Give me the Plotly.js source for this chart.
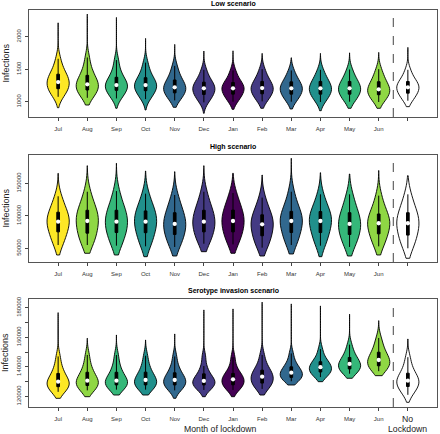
<!DOCTYPE html>
<html>
<head>
<meta charset="utf-8">
<script src="https://cdn.plot.ly/plotly-3.0.1.min.js"></script>
<style>html,body{margin:0;padding:0;background:#fff;}#chart{width:440px;height:434px;}</style>
</head>
<body>
<div id="chart"></div>
<script>
// ---- Data ----
const months = ['Jul','Aug','Sep','Oct','Nov','Dec','Jan','Feb','Mar','Apr','May','Jun','No Lockdown'];
const fillColors = ['#FDE725','#8FD744','#35B779','#21908C','#31688E','#443A83','#440154','#443A83','#31688E','#21908C','#35B779','#8FD744','#FFFFFF'];

// Low scenario: quantile values, plus extremes (violin tips)
const lowSamples = [
  [1075,1130,1170,1210,1245,1275,1302,1335,1370,1410,1460,1530,1660],
  [1060,1110,1150,1190,1225,1245,1267,1300,1340,1390,1450,1530,1680],
  [1050,1100,1145,1185,1215,1235,1256,1285,1320,1360,1420,1500,1640],
  [1040,1095,1140,1180,1210,1235,1256,1285,1315,1355,1410,1480,1600],
  [1020,1070,1110,1145,1175,1200,1221,1250,1280,1320,1375,1440,1550],
  [990,1045,1085,1120,1155,1180,1205,1230,1255,1290,1330,1390,1490],
  [1000,1050,1090,1125,1160,1185,1205,1230,1255,1285,1325,1385,1480],
  [1005,1055,1095,1130,1165,1190,1210,1235,1265,1300,1345,1405,1500],
  [1000,1050,1090,1125,1160,1185,1205,1230,1260,1295,1335,1390,1480],
  [995,1050,1090,1125,1160,1185,1205,1235,1265,1300,1345,1400,1490],
  [1000,1050,1090,1125,1160,1185,1205,1235,1265,1300,1345,1400,1495],
  [995,1045,1085,1115,1150,1170,1190,1220,1255,1295,1345,1405,1500],
  [1015,1065,1105,1140,1175,1200,1221,1245,1270,1300,1340,1395,1490]
];
const lowMin = [908,949,899,873,914,822,883,899,888,862,899,899,924];
const lowMax = [2212,2345,2294,1972,1880,1778,1782,1742,1675,1742,1751,1757,1834];

// High scenario
const highSamples = [
  [55000,63000,70000,77000,83000,87000,91000,95000,99000,104000,110000,118000,130000],
  [55000,62000,68000,75000,82000,88000,92000,97000,102000,107000,113000,122000,137000],
  [54000,62000,69000,76000,82000,87000,91000,96000,101000,107000,113000,122000,138000],
  [53000,61000,68000,76000,82000,87000,91000,96000,101000,106000,112000,120000,134000],
  [52000,60000,66000,73000,79000,84000,87400,92000,97000,103000,110000,118000,132000],
  [57000,64000,70000,77000,83000,87000,91000,96000,101000,107000,113000,122000,137000],
  [56000,64000,70000,77000,83000,88000,92000,97000,102000,107000,114000,122000,135000],
  [51000,58000,64000,71000,77000,82000,86900,91000,95000,100000,106000,114000,128000],
  [55000,62000,69000,76000,83000,88000,92000,96000,100000,105000,112000,121000,137000],
  [54000,62000,69000,76000,83000,88000,92000,96000,100000,105000,111000,119000,133000],
  [52000,60000,66000,73000,79000,84000,87400,92000,97000,103000,110000,119000,133000],
  [53000,61000,67000,74000,80000,85000,88500,92000,96000,101000,108000,116000,131000],
  [50000,58000,65000,72000,79000,84000,88500,93000,98000,103000,110000,119000,133000]
];
const highMin = [39700,42300,39700,37080,38150,44770,42300,38150,41230,37080,38150,39700,34620];
const highMax = [165380,177080,180770,168920,167850,177080,165380,162770,188460,166310,164310,169690,161690];

// Serotype invasion scenario
const serotypeSamples = [
  [123000,124500,125700,126800,128000,129000,129900,131200,132800,134800,137500,141000,147000],
  [124000,125300,126400,127600,128700,129700,130600,132000,133600,135600,138300,142000,148000],
  [124500,125800,126900,128000,129000,129800,130600,132000,133600,135600,138300,142000,148000],
  [124500,125800,126900,128000,129100,130100,131050,132300,133800,135700,138300,141800,147500],
  [124000,125600,126800,128000,129200,130100,131050,132200,133600,135300,137800,141000,147000],
  [124300,125700,126800,128000,129000,129700,130400,131500,132800,134600,137000,140500,147000],
  [124300,125700,126900,128100,129300,130400,131500,132500,133600,135000,137000,140500,146500],
  [125000,126700,127900,129300,130800,132000,133300,134500,135700,137200,139200,142500,148000],
  [130200,131300,132200,133000,134000,135000,136000,137000,138000,139500,141300,144000,149000],
  [133000,134500,135700,136700,137700,138700,139700,140700,141800,143000,144700,147200,152000],
  [135300,136700,137800,138800,139900,140900,141900,143000,144200,145800,147800,150500,155000],
  [137000,138500,139700,141000,142200,143400,144600,145900,147300,149200,151800,155000,159500],
  [121000,123500,125500,127000,128400,129500,130600,131800,133200,135000,137500,141000,146500]
];
const serotypeMin = [118640,119730,120880,120880,118640,119730,119730,120880,127660,129900,132200,133970,115930];
const serotypeMax = [176680,159320,161560,158170,162240,178510,179190,183730,182580,181220,175590,171250,158850];

const panelTitles = ['Low scenario','High scenario','Serotype invasion scenario'];
const yTicks1 = [1000,1500,2000];
const yTicks2 = [50000,100000,150000];
const yTicks3 = [120000,140000,160000,180000];

// ---- Build ----
const W = 440, H = 434;
const FONT = 'Liberation Sans, Arial, sans-serif';
const px2x = p => p / W;
const px2y = p => 1 - p / H;

function median(a){ const s=[...a].sort((u,v)=>u-v); const n=s.length; return n%2? s[(n-1)/2] : (s[n/2-1]+s[n/2])/2; }

const panels = [
  {samples: lowSamples, mins: lowMin, maxs: lowMax},
  {samples: highSamples, mins: highMin, maxs: highMax},
  {samples: serotypeSamples, mins: serotypeMin, maxs: serotypeMax}
];
const axSuffix = ['', '2', '3'];
const traces = [];
panels.forEach((pd, p) => {
  const xa = 'x' + axSuffix[p], ya = 'y' + axSuffix[p];
  pd.samples.forEach((s, i) => {
    traces.push({
      type: 'violin', y: s, x0: i + 1, xaxis: xa, yaxis: ya,
      name: months[i], width: 0.76, points: false,
      spanmode: 'manual', span: [pd.mins[i], pd.maxs[i]],
      fillcolor: fillColors[i], opacity: 1,
      line: {color: '#000', width: 0.9},
      box: {visible: true, width: 0.12, fillcolor: '#000', line: {color: '#000', width: 1}},
      meanline: {visible: false}, hoverinfo: 'skip', showlegend: false
    });
  });
  traces.push({
    type: 'scatter', mode: 'markers', xaxis: xa, yaxis: ya,
    x: months.map((m, i) => i + 1), y: pd.samples.map(median),
    marker: {color: '#fff', size: 4.3, line: {width: 0}},
    hoverinfo: 'skip', showlegend: false
  });
});

const xDomain = [px2x(29), px2x(437)];
const yDomains = [[px2y(117), px2y(10)], [px2y(262), px2y(155)], [px2y(407), px2y(299)]];
const yRanges = [[765, 2409], [28900, 193500], [112750, 185900]];
const yTicks = [yTicks1, yTicks2, yTicks3];

const layout = {
  width: W, height: H, margin: {l: 0, r: 0, t: 0, b: 0},
  paper_bgcolor: '#fff', plot_bgcolor: '#fff',
  violinmode: 'overlay', showlegend: false,
  font: {family: FONT, color: '#222'},
  shapes: [], annotations: []
};

for (let p = 0; p < 3; p++) {
  const s = axSuffix[p];
  layout['xaxis' + s] = {
    domain: xDomain, anchor: 'y' + s, range: [0, 14],
    tickvals: months.map((m, i) => i + 1),
    ticktext: months.map((m, i) => i < 12 ? m : ''),
    ticks: 'outside', ticklen: 3, tickcolor: '#444', tickwidth: 1,
    tickfont: {size: 6, family: FONT, color: '#333'}, ticklabelstandoff: 3,
    showline: true, mirror: true, linecolor: '#555', linewidth: 1,
    showgrid: false, zeroline: false, fixedrange: true
  };
  const ya = {
    domain: yDomains[p], anchor: 'x' + s, range: yRanges[p],
    tickvals: yTicks[p], ticktext: yTicks[p].map(String), tickangle: -90,
    ticks: 'outside', ticklen: 3, tickcolor: '#444', tickwidth: 1,
    tickfont: {size: 6, family: FONT, color: '#333'}, ticklabelstandoff: 2,
    showline: true, mirror: true, linecolor: '#555', linewidth: 1,
    showgrid: false, zeroline: false, fixedrange: true
  };
  if (p === 2) ya.minor = {dtick: 10000, tick0: 0, ticks: 'outside', ticklen: 3, tickcolor: '#444', showgrid: false};
  layout['yaxis' + s] = ya;

  layout.shapes.push({
    type: 'line', xref: 'x' + s, yref: 'y' + s + ' domain',
    x0: 12.5, x1: 12.5, y0: 0, y1: 1,
    line: {color: '#444', width: 1, dash: 'dash'}
  });
}

const titleY = [3.5, 147, 291];
const panelMid = [63.5, 208.5, 353];
for (let p = 0; p < 3; p++) {
  layout.annotations.push({
    text: '<b>' + panelTitles[p] + '</b>', xref: 'paper', yref: 'paper',
    x: px2x(233), y: px2y(titleY[p]), xanchor: 'center', yanchor: 'middle',
    showarrow: false, font: {size: 7, family: FONT, color: '#000'}
  });
  layout.annotations.push({
    text: 'Infections', xref: 'paper', yref: 'paper', textangle: -90,
    x: px2x(5), y: px2y(panelMid[p]), xanchor: 'center', yanchor: 'middle',
    showarrow: false, font: {size: 9, family: FONT, color: '#222'}
  });
}
layout.annotations.push({
  text: 'Month of lockdown', xref: 'paper', yref: 'paper',
  x: px2x(220), y: px2y(428.5), xanchor: 'center', yanchor: 'middle',
  showarrow: false, font: {size: 8.7, family: FONT, color: '#222'}
});
layout.annotations.push({
  text: 'No', xref: 'x3', yref: 'paper', x: 13, y: px2y(418.5),
  xanchor: 'center', yanchor: 'middle', showarrow: false,
  font: {size: 8.7, family: FONT, color: '#222'}
});
layout.annotations.push({
  text: 'Lockdown', xref: 'x3', yref: 'paper', x: 13, y: px2y(428.5),
  xanchor: 'center', yanchor: 'middle', showarrow: false,
  font: {size: 8.7, family: FONT, color: '#222'}
});

Plotly.newPlot('chart', traces, layout, {staticPlot: true, displayModeBar: false});
</script>
</body>
</html>
